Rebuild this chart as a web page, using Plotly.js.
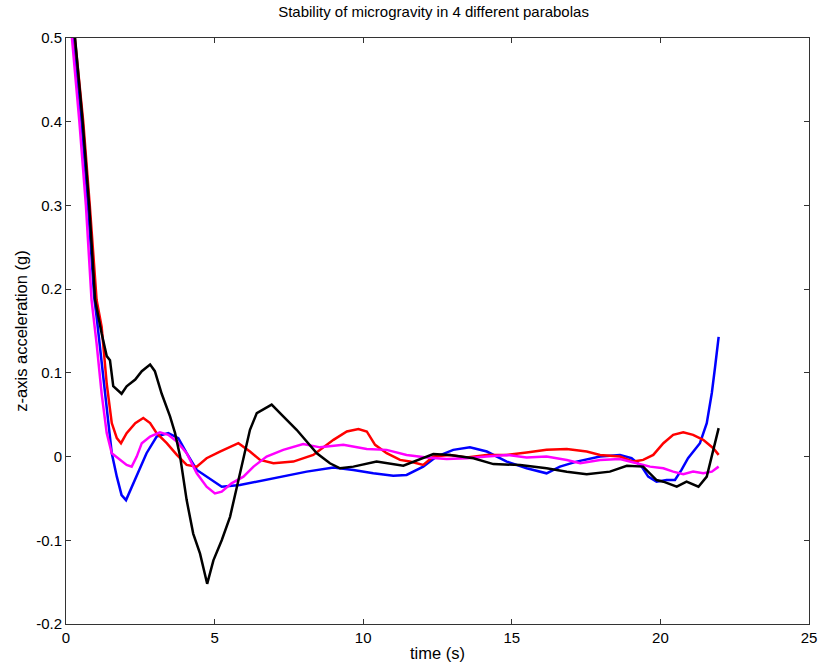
<!DOCTYPE html>
<html>
<head>
<meta charset="utf-8">
<script src="https://cdn.plot.ly/plotly-3.0.1.min.js"></script>
<style>html,body{margin:0;padding:0;background:#fff;}#chart{width:818px;height:670px;}</style>
</head>
<body>
<div id="chart"></div>
<script>
// Parabola 1 (blue)
const tBlue = [0.05,0.25,0.52,0.74,0.95,1.03,1.2,1.42,1.54,1.71,1.87,2.02,2.21,2.43,2.71,3.05,3.44,3.78,4.06,4.4,4.84,5.24,5.85,6.42,7.2,7.87,8.1,9.0,9.67,10.34,11.01,11.46,12.02,12.47,13.03,13.59,14.16,14.83,15.5,16.17,16.62,17.18,17.97,18.64,19.03,19.37,19.59,19.87,20.21,20.49,20.71,20.93,21.1,21.33,21.56,21.73,21.84,21.96];
const vBlue = [0.58,0.5,0.4,0.3,0.19,0.167,0.115,0.048,0.004,-0.024,-0.046,-0.052,-0.036,-0.018,0.004,0.024,0.028,0.022,0.004,-0.016,-0.026,-0.036,-0.034,-0.03,-0.024,-0.02,-0.018,-0.013,-0.016,-0.02,-0.023,-0.022,-0.012,0.0,0.008,0.011,0.006,-0.006,-0.014,-0.02,-0.012,-0.006,0.0,0.002,-0.002,-0.012,-0.024,-0.03,-0.028,-0.028,-0.016,-0.002,0.006,0.016,0.04,0.076,0.107,0.143];
// Parabola 2 (red)
const tRed = [0.1,0.3,0.58,0.8,1.03,1.2,1.37,1.54,1.71,1.85,2.04,2.33,2.6,2.83,3.05,3.39,3.73,4.06,4.4,4.73,5.18,5.8,6.19,6.53,6.98,7.65,8.32,9.0,9.45,9.84,10.12,10.4,10.79,11.24,11.57,12.02,12.36,12.92,13.48,14.16,14.83,15.5,16.17,16.85,17.52,17.97,18.64,19.08,19.42,19.76,20.1,20.43,20.77,21.1,21.44,21.78,21.96];
const vRed = [0.57,0.5,0.4,0.3,0.187,0.155,0.087,0.04,0.022,0.016,0.028,0.04,0.046,0.04,0.028,0.016,0.002,-0.01,-0.012,-0.002,0.006,0.016,0.006,-0.004,-0.008,-0.006,0.002,0.02,0.03,0.033,0.03,0.014,0.004,-0.004,-0.006,-0.01,0.0,0.002,-0.001,0.002,0.002,0.005,0.008,0.009,0.006,0.002,0.0,-0.006,-0.004,0.002,0.016,0.026,0.029,0.026,0.02,0.01,0.002];
// Parabola 3 (magenta)
const tMag = [0.0,0.2,0.45,0.67,0.86,1.03,1.2,1.37,1.54,1.76,2.04,2.21,2.38,2.55,2.83,3.16,3.44,3.73,4.06,4.4,4.73,5.01,5.24,5.57,5.97,6.31,6.75,7.31,7.98,8.55,9.33,10.12,10.79,11.46,12.14,12.81,13.48,14.16,14.83,15.5,16.17,16.85,17.3,17.97,18.64,19.2,19.65,20.1,20.43,20.77,21.1,21.44,21.73,21.96];
const vMag = [0.56,0.5,0.4,0.3,0.187,0.135,0.075,0.028,0.004,-0.002,-0.01,-0.012,0.0,0.016,0.024,0.029,0.026,0.018,0.004,-0.02,-0.036,-0.044,-0.042,-0.032,-0.024,-0.012,0.0,0.008,0.015,0.011,0.014,0.009,0.008,0.002,-0.001,-0.003,-0.002,0.0,0.002,-0.001,0.0,-0.004,-0.008,-0.004,-0.003,-0.008,-0.012,-0.014,-0.018,-0.021,-0.018,-0.02,-0.018,-0.012];
// Parabola 4 (black)
const tBlack = [0.1,0.3,0.56,0.78,0.98,1.2,1.37,1.48,1.59,1.87,2.04,2.33,2.55,2.83,2.99,3.22,3.5,3.67,3.84,4.06,4.28,4.51,4.75,4.96,5.24,5.52,5.85,6.19,6.42,6.64,6.92,7.31,7.76,8.44,8.88,9.22,9.67,10.45,11.35,12.36,12.92,13.71,14.38,15.28,16.17,16.85,17.52,18.3,18.87,19.42,19.87,20.1,20.55,20.88,21.28,21.56,21.78,21.96];
const vBlack = [0.58,0.5,0.4,0.3,0.187,0.147,0.12,0.115,0.084,0.075,0.084,0.092,0.102,0.11,0.102,0.075,0.048,0.028,0.0,-0.052,-0.092,-0.116,-0.152,-0.124,-0.1,-0.072,-0.02,0.032,0.052,0.056,0.062,0.048,0.032,0.004,-0.008,-0.014,-0.012,-0.006,-0.011,0.003,0.002,-0.002,-0.009,-0.01,-0.014,-0.018,-0.021,-0.018,-0.011,-0.012,-0.028,-0.03,-0.036,-0.03,-0.036,-0.024,0.008,0.034];

const xTicks = [0,5,10,15,20,25];
const yTicks = [-0.2,-0.1,0,0.1,0.2,0.3,0.4,0.5];
const yTickText = ['-0.2','-0.1','0','0.1','0.2','0.3','0.4','0.5'];

const lw = 2.5;
const traces = [
  {x:tBlue, y:vBlue, mode:'lines', line:{color:'#0000FF', width:lw}},
  {x:tRed, y:vRed, mode:'lines', line:{color:'#FF0000', width:lw}},
  {x:tMag, y:vMag, mode:'lines', line:{color:'#FF00FF', width:lw}},
  {x:tBlack, y:vBlack, mode:'lines', line:{color:'#000000', width:lw}}
];

const FONT = 'Liberation Sans, Arial, sans-serif';
const axisCommon = {
  showgrid:false, zeroline:false, showline:true, linecolor:'#333', linewidth:1,
  mirror:'ticks', ticks:'inside', ticklen:5, tickcolor:'#333',
  tickfont:{family:FONT, size:15, color:'#000'}
};

const layout = {
  width:818, height:670,
  margin:{l:66, r:9, t:38, b:46},
  paper_bgcolor:'#fff', plot_bgcolor:'#fff',
  showlegend:false,
  title:{text:'Stability of microgravity in 4 different parabolas', x:0.53, xanchor:'center', y:0.982, yanchor:'middle',
         font:{family:FONT, size:15, color:'#000'}},
  xaxis:Object.assign({}, axisCommon, {range:[0,25], tickvals:xTicks, ticktext:xTicks.map(String),
         title:{text:'time (s)', standoff:2, font:{family:FONT, size:16.5, color:'#000'}}}),
  yaxis:Object.assign({}, axisCommon, {range:[-0.2,0.5], tickvals:yTicks, ticktext:yTickText,
         title:{text:'z-axis acceleration (g)', standoff:4, font:{family:FONT, size:16.5, color:'#000'}}})
};

Plotly.newPlot('chart', traces, layout, {displayModeBar:false, staticPlot:true});
</script>
</body>
</html>
